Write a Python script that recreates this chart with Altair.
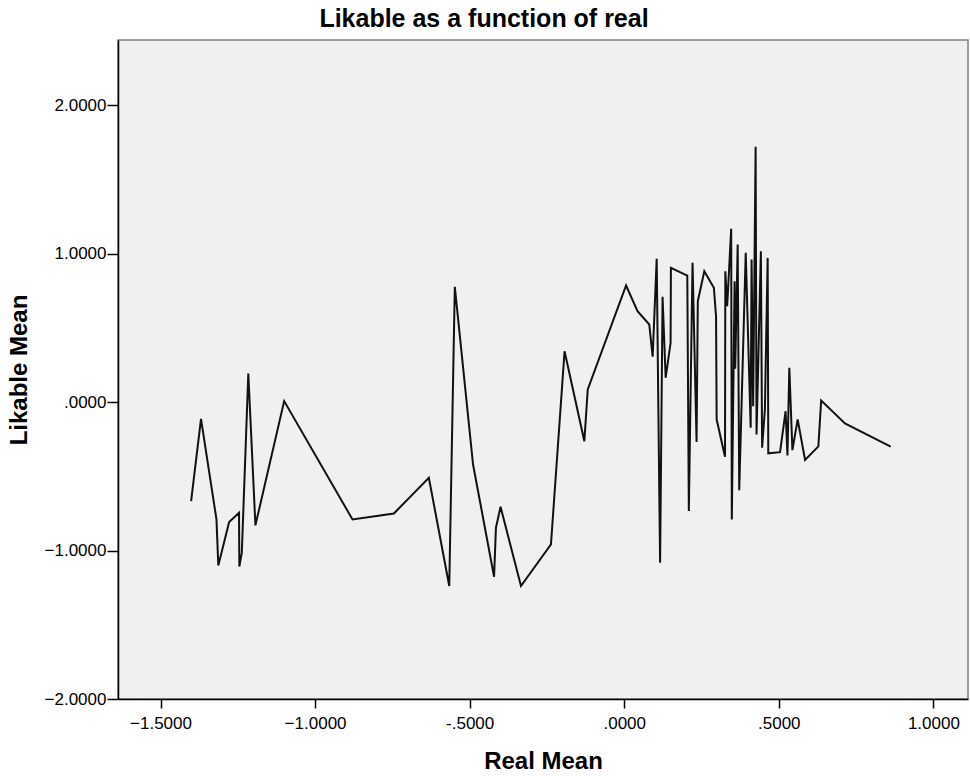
import altair as alt
import pandas as pd

# Mean "real" rating per item (x) and mean "likable" rating (y), in drawing order
real_mean = [
    -1.401, -1.369, -1.319, -1.313, -1.278, -1.246, -1.245, -1.237, -1.216, -1.193,
    -1.100, -0.879, -0.745, -0.632, -0.566, -0.548, -0.489, -0.421, -0.415, -0.400,
    -0.334, -0.237, -0.193, -0.129, -0.118, 0.006, 0.043, 0.081, 0.092, 0.105,
    0.116, 0.124, 0.134, 0.150, 0.151, 0.204, 0.209, 0.221, 0.234, 0.238,
    0.259, 0.290, 0.297, 0.299, 0.326, 0.327, 0.333, 0.346, 0.348, 0.357,
    0.359, 0.367, 0.372, 0.393, 0.409, 0.412, 0.417, 0.425, 0.428, 0.442,
    0.446, 0.455, 0.464, 0.466, 0.504, 0.522, 0.528, 0.534, 0.544, 0.561,
    0.585, 0.628, 0.637, 0.714, 0.862,
]
likable_mean = [
    -0.667, -0.112, -0.790, -1.100, -0.808, -0.745, -1.108, -1.014, 0.193, -0.830,
    0.007, -0.790, -0.750, -0.509, -1.239, 0.777, -0.420, -1.176, -0.846, -0.705,
    -1.239, -0.958, 0.343, -0.263, 0.086, 0.786, 0.613, 0.523, 0.306, 0.966,
    -1.082, 0.710, 0.164, 0.400, 0.905, 0.853, -0.734, 0.939, -0.269, 0.680,
    0.882, 0.770, 0.579, -0.117, -0.368, 0.882, 0.646, 1.168, -0.790, 0.815,
    0.225, 1.062, -0.593, 1.006, -0.173, 0.961, -0.027, 1.720, -0.218, 1.017,
    -0.307, -0.049, 0.972, -0.345, -0.337, -0.061, -0.359, 0.232, -0.323, -0.117,
    -0.390, -0.298, 0.011, -0.143, -0.300,
]

x_ticks = [-1.5, -1.0, -0.5, 0.0, 0.5, 1.0]
y_ticks = [-2.0, -1.0, 0.0, 1.0, 2.0]

df = pd.DataFrame({
    "idx": list(range(len(real_mean))),
    "real": real_mean,
    "likable": likable_mean,
})

# SPSS-style number labels: four decimals, no leading zero (".5000", "-.5000")
label_fmt = (
    "abs(datum.value) < 1 ? (datum.value < 0 ? '-' : '') + "
    "substring(format(abs(datum.value), '.4f'), 1) : format(datum.value, '.4f')"
)

FONT = "Liberation Sans"

chart = (
    alt.Chart(df)
    .mark_line(color="#111111", strokeWidth=2)
    .encode(
        x=alt.X(
            "real:Q",
            title="Real Mean",
            scale=alt.Scale(domain=[-1.6375, 1.112], nice=False, zero=False),
            axis=alt.Axis(
                values=x_ticks,
                labelExpr=label_fmt,
                grid=False,
                tickSize=9,
                labelPadding=7,
                titlePadding=18,
            ),
        ),
        y=alt.Y(
            "likable:Q",
            title="Likable Mean",
            scale=alt.Scale(domain=[-2.0, 2.44], nice=False, zero=False),
            axis=alt.Axis(
                values=y_ticks,
                labelExpr=label_fmt,
                grid=False,
                tickSize=11,
                labelPadding=1,
                titlePadding=13,
            ),
        ),
        order="idx:Q",
    )
    .properties(
        width=850,
        height=659,
        autosize="none",
        padding={"left": 118, "top": 40, "right": 2, "bottom": 77},
        title=alt.TitleParams(
            "Likable as a function of real",
            anchor="middle",
            dx=-59,
            offset=8,
            font=FONT,
            fontSize=25,
            fontWeight="bold",
            color="black",
        ),
    )
    .configure_view(fill="#f0f0f0", stroke="#808080", strokeWidth=1.5)
    .configure_axis(
        domainColor="black",
        domainWidth=1.5,
        tickColor="black",
        tickWidth=1.5,
        labelFont=FONT,
        labelFontSize=17,
        labelColor="black",
        titleFont=FONT,
        titleFontSize=24,
        titleFontWeight="bold",
        titleColor="black",
    )
)

chart.save("out.html", embed_options={"renderer": "svg", "actions": False})
